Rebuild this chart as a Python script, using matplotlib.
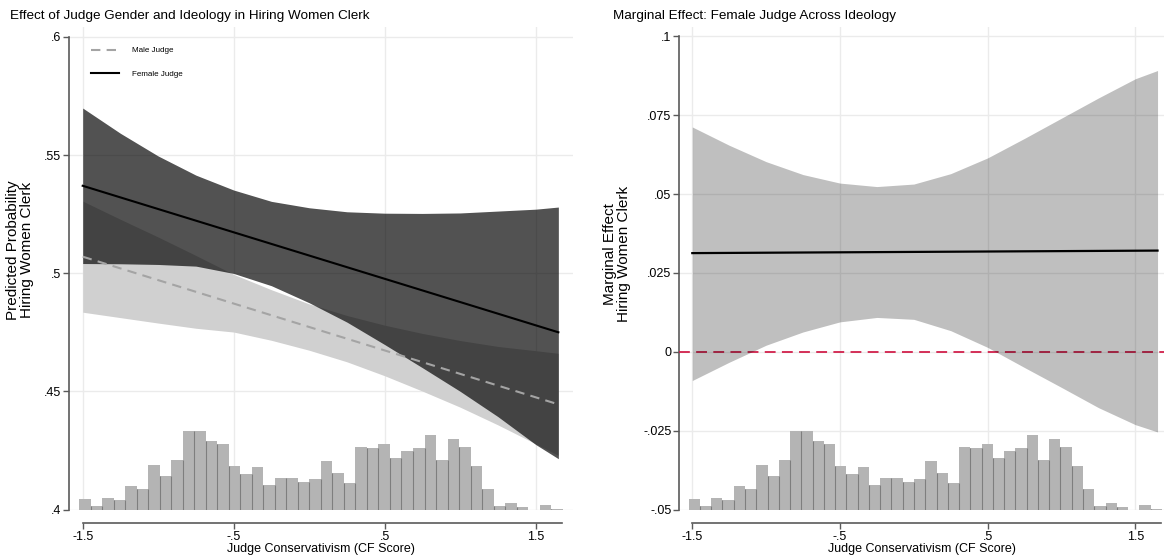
import numpy as np
import matplotlib
matplotlib.use("Agg")
import matplotlib.pyplot as plt

plt.rcParams["font.family"] = ["Liberation Sans", "DejaVu Sans"]

# Judge ideology points where the curves were read
cf_grid = [-1.5, -1.25, -1.0, -0.75, -0.5, -0.25, 0.0, 0.25, 0.5, 0.75, 1.0, 1.25, 1.5, 1.65]
cf_ends = [-1.5, 1.65]

# Left panel: predicted probability of hiring a woman clerk
male_pred = [0.507, 0.4445]
female_pred = [0.537, 0.475]
male_hi = [0.5305, 0.5228, 0.5153, 0.5075, 0.4995, 0.4930, 0.4870, 0.4821, 0.4780, 0.4745, 0.4715, 0.4690, 0.4672, 0.4661]
male_lo = [0.4835, 0.4812, 0.4789, 0.4767, 0.4751, 0.4716, 0.4674, 0.4625, 0.4566, 0.4501, 0.4433, 0.4358, 0.4278, 0.4229]
female_hi = [0.5699, 0.5592, 0.5496, 0.5415, 0.5352, 0.5304, 0.5277, 0.5260, 0.5254, 0.5253, 0.5255, 0.5263, 0.5271, 0.5280]
female_lo = [0.5041, 0.5040, 0.5037, 0.5030, 0.4999, 0.4947, 0.4875, 0.4793, 0.4698, 0.4600, 0.4500, 0.4393, 0.4275, 0.4215]

# Right panel: marginal effect of a female judge
me_pred = [0.0313, 0.0321]
me_hi = [0.0713, 0.0655, 0.0603, 0.0562, 0.0535, 0.0524, 0.0532, 0.0565, 0.0615, 0.0677, 0.0741, 0.0805, 0.0866, 0.0892]
me_lo = [-0.0091, -0.0033, 0.0021, 0.0063, 0.0095, 0.0109, 0.0103, 0.0067, 0.0014, -0.0050, -0.0113, -0.0177, -0.0231, -0.0254]

# Histogram of judge CF scores (relative bar heights)
hist_counts = [31, 10, 34, 28, 70, 61, 133, 100, 148, 235, 235, 205, 196, 130, 106, 127, 73, 94, 94, 82, 91,
               145, 109, 79, 187, 184, 196, 154, 175, 184, 223, 148, 211, 187, 130, 61, 10, 19, 7, 0, 13, 2]
hist_lo, hist_hi = -1.5245, 1.679

xticks = [-1.5, -0.5, 0.5, 1.5]
xtick_labels = ["-1.5", "-.5", ".5", "1.5"]
left_yticks = [0.4, 0.45, 0.5, 0.55, 0.6]
left_ylabels = [".4", ".45", ".5", ".55", ".6"]
right_yticks = [-0.05, -0.025, 0, 0.025, 0.05, 0.075, 0.1]
right_ylabels = ["-.05", "-.025", "0", ".025", ".05", ".075", ".1"]

axis_col = "#5a5a5a"
grid_col = "#ebebeb"

fig = plt.figure(figsize=(11.64, 5.59), dpi=100)
ax1 = fig.add_axes([0.05928, 0.08855, 0.43299, 0.86315])
ax2 = fig.add_axes([0.58333, 0.08855, 0.41667, 0.86315])


def draw_hist(ax, base, top):
    edges = np.linspace(hist_lo, hist_hi, len(hist_counts) + 1)
    h = np.array(hist_counts) / max(hist_counts) * top
    ax.bar(edges[:-1], h, width=edges[1] - edges[0], align="edge", bottom=base,
           color="#b4b4b4", edgecolor="none", zorder=2)
    sep = np.minimum(h[:-1], h[1:])
    ax.vlines(edges[1:-1], base, base + sep, color="#7e7e7e", lw=0.8, zorder=2)


def style(ax, yticks, ylabels, xlim, ylim):
    ax.set_xlim(*xlim)
    ax.set_ylim(*ylim)
    ax.set_xticks(xticks)
    ax.set_xticklabels(xtick_labels)
    ax.set_yticks(yticks)
    ax.set_yticklabels(ylabels)
    ax.grid(True, color=grid_col, lw=1, zorder=0)
    ax.set_axisbelow(True)
    for s in ["top", "right"]:
        ax.spines[s].set_visible(False)
    ax.spines["left"].set_bounds(ylim[0], yticks[-1])
    ax.spines["bottom"].set_position(("outward", 10))
    ax.spines["bottom"].set_bounds(-1.5, 1.675)
    for s in ["left", "bottom"]:
        ax.spines[s].set_color(axis_col)
        ax.spines[s].set_linewidth(1.2)
    ax.tick_params(direction="out", length=4.5, width=1, color=axis_col, labelsize=9, pad=1)
    ax.set_xlabel("Judge Conservativism (CF Score)", fontsize=9, labelpad=0)


# Left panel
draw_hist(ax1, 0.4, 0.0332)
ax1.fill_between(cf_grid, male_lo, male_hi, color="#d0d0d0", lw=0, zorder=3)
ax1.fill_between(cf_grid, female_lo, female_hi, color="black", alpha=0.68, lw=0, zorder=4)
ax1.plot(cf_ends, male_pred, color="#a4a4a4", lw=1.5, dashes=(4.5, 3), label="Male Judge", zorder=5)
ax1.plot(cf_ends, female_pred, color="black", lw=1.5, label="Female Judge", zorder=6)
style(ax1, left_yticks, left_ylabels, (-1.5907, 1.747), (0.4, 0.6042))
ax1.legend(loc="upper left", bbox_to_anchor=(0.043, 0.959), frameon=False, fontsize=5.8,
           handlelength=3.5, handletextpad=1.6, labelspacing=1.95, borderpad=0, borderaxespad=0)

# Right panel
draw_hist(ax2, -0.05, 0.0248)
ax2.axhline(0, color="#d1204b", lw=1.3, dashes=(6, 3.5), zorder=3)
ax2.fill_between(cf_grid, me_lo, me_hi, color="black", alpha=0.25, lw=0, zorder=4)
ax2.plot(cf_ends, me_pred, color="black", lw=1.6, zorder=5)
style(ax2, right_yticks, right_ylabels, (-1.590, 1.6937), (-0.05, 0.1030))

# Titles and y labels
fig.text(10 / 1164, 1 - 10 / 559, "Effect of Judge Gender and Ideology in Hiring Women Clerk",
         fontsize=9.7, va="top", ha="left")
fig.text(613 / 1164, 1 - 10 / 559, "Marginal Effect: Female Judge Across Ideology",
         fontsize=9.7, va="top", ha="left")
fig.text(20 / 1164, 1 - 250 / 559, "Predicted Probability\nHiring Women Clerk", rotation=90,
         fontsize=11, ha="center", va="center", linespacing=1.0)
fig.text(617 / 1164, 1 - 254 / 559, "Marginal Effect\nHiring Women Clerk", rotation=90,
         fontsize=11, ha="center", va="center", linespacing=1.0)

fig.savefig("out.png", dpi=100)
